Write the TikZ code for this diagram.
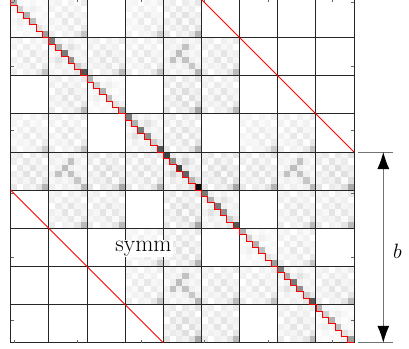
\documentclass[tikz,border=0pt]{standalone}
\usetikzlibrary{arrows.meta}
\begin{document}
\begin{tikzpicture}[x=1pt,y=-1pt,
  gridline/.style={draw=black!85,line width=0.9pt},
  tickline/.style={draw=black!60,line width=0.4pt},
  redline/.style={draw=red,line width=0.8pt},
  dimline/.style={draw=black!55,line width=0.9pt}]
\useasboundingbox (0,0) rectangle (409,348);
\def\xo{10.7}\def\yo{-0.6}\def\B{38.15}\def\cs{6.3583}
\def\Dt{{1.0,.12,.05,.10,.04,.08, .12,.60,.10,.22,.12,.04, .05,.10,1.0,.12,.06,.12, .10,.22,.12,.85,.10,.08, .04,.12,.06,.10,.40,.18, .08,.04,.12,.08,.18,1.3}}
\def\Ot{{4,6,0,6,3,8, 6,2,8,3,6,0, 0,8,3,10,4,6, 6,3,10,2,9,4, 3,6,4,9,2,10, 8,0,6,4,10,25}}
\def\Xt{{4,6,2,6,3,6, 6,3,6,24,6,2, 2,6,26,6,3,6, 6,24,6,24,6,3, 3,6,3,6,22,6, 6,2,6,3,6,28}}
% cells
\foreach \bi in {0,...,8}{\foreach \bj in {0,...,8}{
  \pgfmathtruncatemacro\dr{abs(int(\bi/3)-int(\bj/3))}
  \pgfmathtruncatemacro\dc{abs(mod(\bi,3)-mod(\bj,3))}
  \pgfmathtruncatemacro\nz{(\dr<2)&&(\dc<2)}
  \ifnum\nz=1
    \pgfmathtruncatemacro\typ{\bi==\bj ? 0 : (((\bi==4)&&((\bj==1)||(\bj==7)))||((\bj==4)&&((\bi==1)||(\bi==7))) ? 1 : 2)}
    \pgfmathtruncatemacro\nt{(mod(\bi,3)==1)+(int(\bi/3)==1)}
    \pgfmathsetmacro\dsc{30+22*\nt}
    \pgfmathsetmacro\osc{(0.8+0.15*mod(\bi*\bj+\bi+\bj,3))*(((\bi==4)||(\bj==4)) ? 1.25 : 1)}
    \foreach \k in {0,...,35}{
      \pgfmathtruncatemacro\rr{int(\k/6)}
      \pgfmathtruncatemacro\cc{mod(\k,6)}
      \ifcase\typ
        \pgfmathtruncatemacro\v{min(100,\dsc*\Dt[\k])}
      \or
        \pgfmathtruncatemacro\v{\Xt[\k]}
      \or
        \pgfmathtruncatemacro\v{\osc*\Ot[\k]}
      \fi
      \ifnum\v>0
        \fill[black!\v] ({\xo+(6*\bj+\cc)*\cs},{\yo+(6*\bi+\rr)*\cs}) rectangle ++(\cs,\cs);
      \fi
    }
  \fi
}}
% grid
\foreach \i in {0,...,9}{
  \draw[gridline] ({\xo+\i*\B},\yo) -- ({\xo+\i*\B},{\yo+9*\B});
  \draw[gridline] (\xo,{\yo+\i*\B}) -- ({\xo+9*\B},{\yo+\i*\B});
}
% ticks
\foreach \t in {0,...,5}{
  \pgfmathsetmacro\p{(10*\t+0.5)*\cs}
  \draw[tickline] (\xo,{\yo+\p}) -- ++(3,0);
  \draw[tickline] ({\xo+9*\B},{\yo+\p}) -- ++(-3,0);
  \draw[tickline] ({\xo+\p},\yo) -- ++(0,3);
  \draw[tickline] ({\xo+\p},{\yo+9*\B}) -- ++(0,-3);
}
% red lines
\draw[redline] (\xo,\yo) \foreach \k in {1,...,54}{ -- ++(0,\cs) -- ++(\cs,0)};
\coordinate (ua) at ({\xo+5*\B},\yo);
\coordinate (ub) at ({\xo+9*\B},{\yo+4*\B});
\coordinate (la) at (\xo,{\yo+5*\B});
\coordinate (lb) at ({\xo+4*\B},{\yo+9*\B});
\draw[redline] (ua) -- (ub);
\draw[redline] (la) -- (lb);
% label symm
\node[fill=white,inner sep=1pt,anchor=base,font=\fontsize{23.5}{23.5}\selectfont] (symm) at (143.5,251.5) {symm};
% dimension
\coordinate (h1a) at (358,{\yo+4*\B});
\coordinate (h1b) at (393,{\yo+4*\B});
\coordinate (h2a) at (358,{\yo+9*\B});
\coordinate (h2b) at (393,{\yo+9*\B});
\coordinate (va) at (383.3,{\yo+4*\B});
\coordinate (vb) at (383.3,{\yo+9*\B});
\draw[dimline] (h1a) -- (h1b);
\draw[dimline] (h2a) -- (h2b);
\draw[dimline,{Latex[length=17pt,width=12pt,color=black]}-{Latex[length=17pt,width=12pt,color=black]}] (va) -- (vb);
\node[font=\fontsize{20}{20}\selectfont,inner sep=0pt] (blab) at (397.5,251) {$b$};
\end{tikzpicture}
\end{document}
